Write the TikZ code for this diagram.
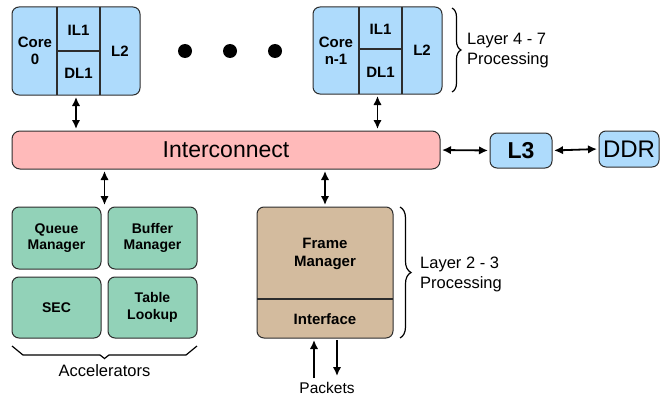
\documentclass[tikz,border=0pt]{standalone}
\usepackage{fontspec}
\setmainfont{Liberation Sans}
\usetikzlibrary{arrows.meta,decorations.pathreplacing}
\definecolor{cblue}{RGB}{174,219,252}
\definecolor{cpink}{RGB}{255,186,186}
\definecolor{cgreen}{RGB}{146,210,184}
\definecolor{ctan}{RGB}{211,187,158}
\definecolor{cline}{RGB}{45,45,45}
\begin{document}
\begin{tikzpicture}[x=1pt,y=-1pt,
  box/.style={draw=cline, line width=1pt, rounded corners=7pt, inner sep=0pt, align=center},
  boxtxt/.style={font=\bfseries\fontsize{14}{16.5}\selectfont, align=center, inner sep=0pt},
  coretxt/.style={font=\bfseries\fontsize{15}{17.5}\selectfont, align=center, inner sep=0pt},
  lbl/.style={font=\fontsize{16.5}{20}\selectfont, align=left, inner sep=0pt},
  div/.style={draw=cline, line width=1.4pt},
  arr/.style={{Latex[length=9pt,width=8.5pt]}-{Latex[length=9pt,width=8.5pt]}, line width=1.8pt, shorten <=1.5pt, shorten >=1.5pt},
  arrs/.style={-{Latex[length=9pt,width=8.5pt]}, line width=1.8pt},
  brc/.style={decorate, decoration={brace, amplitude=9pt}, line width=1.2pt}
]
\useasboundingbox (0,0) rectangle (660,396);

% Cores
\node[box, fill=cblue, minimum width=128pt, minimum height=88pt] (core0) at (76,51) {};
\draw[div] (57,7) -- (57,95) (100,7) -- (100,95) (57,51) -- (100,51);
\node[coretxt] (c0a) at (35,51) {Core\\0};
\node[coretxt] (c0b) at (78.5,30) {IL1};
\node[coretxt] (c0c) at (78.5,73) {DL1};
\node[coretxt] (c0d) at (120,51) {L2};

\node[box, fill=cblue, minimum width=129pt, minimum height=87pt] (coren) at (377.5,50.5) {};
\draw[div] (359,7) -- (359,94) (402,7) -- (402,94) (359,49) -- (402,49);
\node[coretxt] (cna) at (336,51) {Core\\n-1};
\node[coretxt] (cnb) at (380.5,29) {IL1};
\node[coretxt] (cnc) at (380.5,72) {DL1};
\node[coretxt] (cnd) at (422,50) {L2};

% dots
\fill (185,51) circle (7pt) (230,51) circle (7pt) (275,51) circle (7pt);

% brace Layer 4-7
\coordinate (b1t) at (452,8);
\coordinate (b1b) at (452,92);
\draw[brc] (b1t) -- (b1b);
\node[lbl, anchor=west] (l47) at (467,51) {Layer 4 - 7\\Processing};

% Interconnect
\node[box, fill=cpink, rounded corners=8pt, minimum width=428pt, minimum height=38pt, font=\fontsize{23}{26}\selectfont] (ic) at (226,150) {Interconnect};
\node[box, fill=cblue, minimum width=62pt, minimum height=35pt, font=\bfseries\fontsize{23}{26}\selectfont] (l3) at (521,150.5) {L3};
\node[box, fill=cblue, minimum width=60pt, minimum height=36pt, font=\fontsize{24}{27}\selectfont] (ddr) at (629,149) {DDR};

\draw[arr] (ic.east) -- (l3.west);
\draw[arr] (l3.east) -- (ddr.west);
\draw[arr] (core0.south) -- (core0.south |- ic.north);
\draw[arr] (coren.south) -- (coren.south |- ic.north);

% Accelerators
\node[box, fill=cgreen, minimum width=89pt, minimum height=62pt] (qm) at (56.5,238) {};
\node[boxtxt] (qmt) at (qm) {Queue\\Manager};
\node[box, fill=cgreen, minimum width=89pt, minimum height=62pt] (bm) at (152.5,238) {};
\node[boxtxt] (bmt) at (bm) {Buffer\\Manager};
\node[box, fill=cgreen, minimum width=89pt, minimum height=61pt] (sec) at (56.5,307.5) {};
\node[boxtxt] (sect) at (sec) {SEC};
\node[box, fill=cgreen, minimum width=89pt, minimum height=61pt] (tl) at (152.5,307.5) {};
\node[boxtxt] (tlt) at (tl) {Table\\Lookup};

\coordinate (acctop) at (104.5,205);
\draw[arr, shorten >=0pt] (ic.south -| acctop) -- (acctop);

\coordinate (b2l) at (12,346);
\coordinate (b2r) at (197,346);
\draw[line width=1.2pt, line join=miter] (b2l) -- (23,355) -- (100,355) -- (104.5,358.5) -- (109,355) -- (186,355) -- (b2r);
\node[lbl] (accl) at (104.5,371) {Accelerators};

% Frame manager
\node[box, fill=ctan, minimum width=136pt, minimum height=131pt] (fm) at (325,272.5) {};
\draw[div] (257,299) -- (393,299);
\node[coretxt] (fmt) at (325,254) {Frame\\Manager};
\node[coretxt] (ift) at (325,319) {Interface};

\draw[arr] (ic.south -| fm.north) -- (fm.north);

\coordinate (b3t) at (400,207);
\coordinate (b3b) at (400,338);
\draw[brc, decoration={brace, amplitude=11pt}] (b3t) -- (b3b);
\node[lbl, anchor=west] (l23) at (420,274) {Layer 2 - 3\\Processing};

% Packets
\coordinate (pin) at (314,378);
\coordinate (pout) at (337,376);
\draw[arrs, shorten >=1.5pt] (pin) -- (pin |- fm.south);
\draw[arrs, shorten <=1.5pt] (pout |- fm.south) -- (pout);
\node[font=\fontsize{15.5}{18}\selectfont, inner sep=0pt] (pk) at (327,388) {Packets};
\end{tikzpicture}
\end{document}
